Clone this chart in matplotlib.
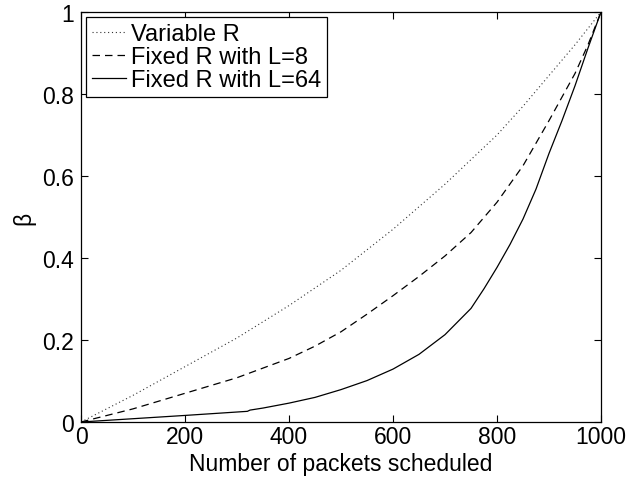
import matplotlib
matplotlib.use("Agg")
import matplotlib.pyplot as plt

plt.rcParams['font.family'] = ['Liberation Sans', 'DejaVu Sans']

# Data
var_x = [0, 100, 200, 300, 400, 500, 600, 700, 800, 850, 900, 950, 1000]
var_y = [0, 0.065, 0.135, 0.205, 0.284, 0.37, 0.47, 0.58, 0.70, 0.77, 0.845, 0.92, 1.0]

l8_x = [0, 100, 200, 300, 400, 450, 500, 550, 600, 650, 700, 750, 800, 850, 900, 950, 975, 1000]
l8_y = [0, 0.032, 0.07, 0.108, 0.155, 0.185, 0.22, 0.263, 0.308, 0.355, 0.405, 0.462, 0.536, 0.625, 0.735, 0.85, 0.92, 1.0]

l64_x = [0, 100, 200, 320, 325, 350, 400, 450, 500, 550, 600, 650, 700, 750, 775, 800, 825,
         850, 875, 900, 925, 950, 975, 1000]
l64_y = [0, 0.008, 0.016, 0.026, 0.029, 0.034, 0.046, 0.06, 0.079, 0.101, 0.129, 0.165, 0.213,
         0.277, 0.325, 0.377, 0.433, 0.495, 0.568, 0.655, 0.735, 0.82, 0.912, 1.0]

labels = ['Variable R', 'Fixed R with L=8', 'Fixed R with L=64']
x_ticks = [0, 200, 400, 600, 800, 1000]
y_ticks = [0, 0.2, 0.4, 0.6, 0.8, 1]
y_tick_labels = ['0', '0.2', '0.4', '0.6', '0.8', '1']

FS = 16.5

fig = plt.figure(figsize=(6.28, 4.81), dpi=100)
ax = fig.add_axes([0.129, 0.1206, 0.828, 0.8524])

ax.plot(var_x, var_y, linestyle=(0, (1, 2.5)), color='#333333', lw=0.8, label=labels[0])
ax.plot(l8_x, l8_y, linestyle=(0, (6, 4)), color='black', lw=0.9, label=labels[1])
ax.plot(l64_x, l64_y, linestyle='-', color='black', lw=0.9, label=labels[2])

ax.set_xlim(0, 1000)
ax.set_ylim(0, 1)
ax.set_xticks(x_ticks)
ax.set_yticks(y_ticks)
ax.set_yticklabels(y_tick_labels)
ax.tick_params(direction='in', top=True, right=True, length=5, width=0.8,
               labelsize=FS)
ax.tick_params(axis='x', pad=2)
ax.tick_params(axis='y', pad=5)
for s in ax.spines.values():
    s.set_linewidth(0.9)

ax.set_xlabel('Number of packets scheduled', fontsize=FS, labelpad=3)
ax.set_ylabel('β', fontsize=FS, labelpad=5)

leg = ax.legend(loc='upper left', fontsize=17, frameon=True, fancybox=False,
                edgecolor='black', framealpha=1, handlelength=1.45,
                borderpad=0.25, labelspacing=0.05, handletextpad=0.2,
                borderaxespad=0.22)
leg.get_frame().set_linewidth(0.9)

fig.savefig('out.png', dpi=100)
